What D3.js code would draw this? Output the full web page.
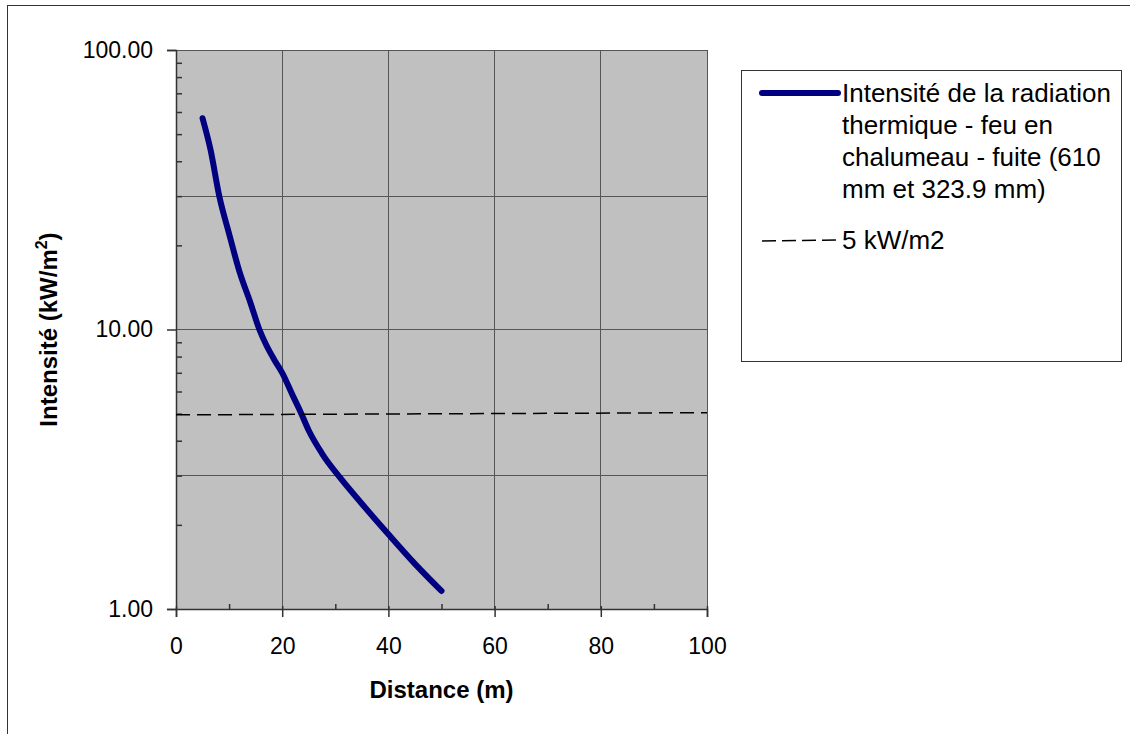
<!DOCTYPE html>
<html>
<head>
<meta charset="utf-8">
<script src="https://cdn.jsdelivr.net/npm/d3@7"></script>
<style>
  body { margin: 0; background: #fff; }
  svg { display: block; font-family: "Liberation Sans", Arial, sans-serif; }
</style>
</head>
<body>
<svg id="chart" width="1130" height="734"></svg>
<script>
// distance (m) and thermal radiation intensity (kW/m2)
var distance = [5, 6.5, 8.15, 10, 12, 14, 15.7, 17, 18.5, 20, 22, 23.5, 25, 27.5, 30.9, 35, 40, 45, 50];
var intensity = [57, 44, 30, 22, 16, 12.5, 10, 8.8, 7.8, 7.0, 5.8, 5.05, 4.35, 3.6, 2.95, 2.38, 1.85, 1.45, 1.16];
// 5 kW/m2 reference line
var refDistance = [0, 100];
var refIntensity = [4.95, 5.04];

var xTicks = [0, 20, 40, 60, 80, 100];
var xMinor = [10, 30, 50, 70, 90];
var yTicks = [1, 10, 100];
var yMinor = [2, 3, 4, 5, 6, 7, 8, 9, 20, 30, 40, 50, 60, 70, 80, 90];
var yGrid = [3, 10, 30];

var seriesName = ["Intensité de la radiation", "thermique - feu en", "chalumeau - fuite (610", "mm et 323.9 mm)"];
var refName = "5 kW/m2";

const margin = {top: 50, right: 423, bottom: 125, left: 176};
const width = 1130 - margin.left - margin.right,
      height = 734 - margin.top - margin.bottom;

const svg = d3.select("#chart");

// outer chart border (only top/left visible)
svg.append("rect")
  .attr("x", 7.5).attr("y", 5.5)
  .attr("width", 1140).attr("height", 740)
  .attr("fill", "none").attr("stroke", "#333").attr("stroke-width", 1);

const g = svg.append("g").attr("transform", `translate(${margin.left},${margin.top})`);

var x = d3.scaleLinear().domain([0, 100]).range([0, width]);
var y = d3.scaleLog().domain([1, 100]).range([height, 0]);

g.append("rect").attr("width", width).attr("height", height).attr("fill", "#c0c0c0");

// gridlines
g.selectAll(".vgrid").data(xTicks.slice(1)).join("line")
  .attr("x1", d => x(d)).attr("x2", d => x(d))
  .attr("y1", 0).attr("y2", height)
  .attr("stroke", "#555").attr("stroke-width", 1)
  .attr("shape-rendering", "crispEdges");
g.selectAll(".hgrid").data(yGrid.concat([100])).join("line")
  .attr("x1", 0).attr("x2", width)
  .attr("y1", d => y(d)).attr("y2", d => y(d))
  .attr("stroke", "#555").attr("stroke-width", 1)
  .attr("shape-rendering", "crispEdges");

// x axis
const xAxis = g.append("g").attr("transform", `translate(0,${height})`)
  .call(d3.axisBottom(x).tickValues(xTicks).tickSize(8).tickPadding(21).tickFormat(d3.format("d")));
xAxis.selectAll("line").attr("y1", -3);
g.append("g").attr("transform", `translate(0,${height})`)
  .call(d3.axisBottom(x).tickValues(xMinor).tickSize(-5).tickFormat(""))
  .call(a => a.select(".domain").remove());

// y axis
g.append("g")
  .call(d3.axisLeft(y).tickValues(yTicks).tickSize(9).tickPadding(14).tickFormat(d3.format(".2f")));
g.append("g")
  .call(d3.axisLeft(y).tickValues(yMinor).tickSize(-6).tickFormat(""))
  .call(a => a.select(".domain").remove());

g.selectAll(".domain, .tick line").attr("stroke", "#333").attr("stroke-width", 1.5);
g.selectAll(".tick text").attr("font-size", 23).attr("fill", "#000")
  .attr("font-family", "Liberation Sans, Arial, sans-serif");

// series
var pts = distance.map((d, i) => [d, intensity[i]]);
var line = d3.line().x(d => x(d[0])).y(d => y(d[1])).curve(d3.curveMonotoneX);
g.append("path").datum(pts)
  .attr("d", line)
  .attr("fill", "none").attr("stroke", "#000080").attr("stroke-width", 6)
  .attr("stroke-linecap", "round").attr("stroke-linejoin", "round");

var refPts = refDistance.map((d, i) => [d, refIntensity[i]]);
g.append("path").datum(refPts)
  .attr("d", d3.line().x(d => x(d[0])).y(d => y(d[1])))
  .attr("fill", "none").attr("stroke", "#000").attr("stroke-width", 1.5)
  .attr("stroke-dasharray", "14,7");

// axis titles
svg.append("text")
  .attr("x", margin.left + width / 2).attr("y", 698)
  .attr("text-anchor", "middle").attr("font-size", 24).attr("font-weight", "bold")
  .text("Distance (m)");

const yt = svg.append("text")
  .attr("transform", `translate(57,${margin.top + height / 2}) rotate(-90)`)
  .attr("text-anchor", "middle").attr("font-size", 24).attr("font-weight", "bold");
yt.append("tspan").text("Intensité (kW/m");
yt.append("tspan").attr("font-size", 16).attr("dy", -10).text("2");
yt.append("tspan").attr("dy", 10).text(")");

// legend
const lg = svg.append("g");
lg.append("rect").attr("x", 741.5).attr("y", 70.5).attr("width", 380).attr("height", 291)
  .attr("fill", "#fff").attr("stroke", "#333").attr("stroke-width", 1);
lg.append("line").attr("x1", 762).attr("x2", 838).attr("y1", 93).attr("y2", 93)
  .attr("stroke", "#000080").attr("stroke-width", 6).attr("stroke-linecap", "round");
lg.append("text").attr("x", 842).attr("font-size", 26)
  .selectAll("tspan").data(seriesName).join("tspan")
  .attr("x", 842).attr("y", (d, i) => 102 + i * 32).text(d => d);
lg.append("line").attr("x1", 762).attr("x2", 840).attr("y1", 241).attr("y2", 240)
  .attr("stroke", "#000").attr("stroke-width", 1.5).attr("stroke-dasharray", "14,6");
lg.append("text").attr("x", 842).attr("y", 249).attr("font-size", 26).text(refName);
</script>
</body>
</html>
